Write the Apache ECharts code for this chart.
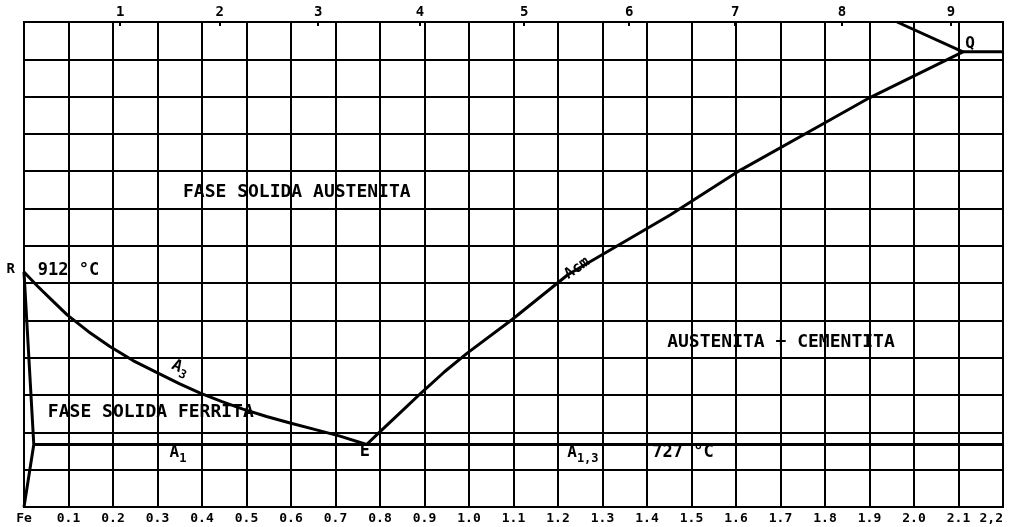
<!DOCTYPE html>
<html>
<head>
<meta charset="utf-8">
<script src="https://cdn.jsdelivr.net/npm/echarts@6/dist/echarts.min.js"></script>
<style>
  html, body { margin: 0; padding: 0; background: #fff; }
  #chart { width: 1011px; height: 527px; }
</style>
</head>
<body>
<div id="chart"></div>
<script>
// ---- data (carbon %, temperature °C) ----
const xTickLabels = ['Fe','0.1','0.2','0.3','0.4','0.5','0.6','0.7','0.8','0.9','1.0',
                     '1.1','1.2','1.3','1.4','1.5','1.6','1.7','1.8','1.9','2.0','2.1','2,2'];
const topTickLabels = ['1','2','3','4','5','6','7','8','9'];
const topTickValues = [0.216, 0.44, 0.661, 0.89, 1.124, 1.36, 1.598, 1.838, 2.083];

const a3Line = [[0,912],[0.03,897],[0.058,884],[0.097,866],[0.145,848],[0.193,832],[0.245,817],
                [0.299,804],[0.35,792],[0.396,782],[0.445,773],[0.492,765],[0.545,757],
                [0.598,750],[0.655,743],[0.71,736],[0.77,727]];
const acmLine = [[0.77,727],[0.796,739],[0.845,761],[0.894,783],[0.945,805],[0.996,825],
                 [1.097,861],[1.222,909],[1.452,973],[1.602,1019],[1.8,1072],[1.901,1099],[2.11,1148]];
const upperLine = [[2.11,1148],[1.962,1180]];
const eutecticLine = [[2.11,1148],[2.2,1148]];
const ferriteLine = [[0,912],[0.022,727],[0,660]];
const a1Line = [[0.022,727],[2.2,727]];

const labelTexts = ['FASE SOLIDA AUSTENITA','FASE SOLIDA FERRITA','AUSTENITA + CEMENTITA',
                    '912 °C','727 °C','{a|A}{s|1,3}','{a|A}{s|1}','E','{a|A}{s|3}','Acm','Q','R'];
const labelPoints = [[0.613,997],[0.285,761],[1.701,837],
                     [0.1,914],[1.481,718],[1.256,718],[0.346,718],[0.766,719],[0.351,809],[1.243,916],[2.126,1157],[-0.03,915]];
const labelSizes = [18,18,18,17,17,16,16,17,16,15,16,14];
const labelRotations = [0,0,0,0,0,0,0,0,-25,35,0,0];

// ---- chart ----
const FONT = 'DejaVu Sans Mono';
const chart = echarts.init(document.getElementById('chart'), null, {renderer: 'canvas'});

function lineSeries(data) {
  return {
    type: 'line', data: data, xAxisIndex: 0, yAxisIndex: 0,
    symbol: 'none', silent: true, clip: false,
    lineStyle: {color: '#000', width: 3}
  };
}

const labelData = labelTexts.map((t, i) => ({
  value: labelPoints[i],
  label: {
    show: true, position: 'inside', formatter: t, rotate: labelRotations[i],
    fontFamily: FONT, fontWeight: 'bold', fontSize: labelSizes[i], color: '#000', opacity: 1,
    textBorderWidth: 0, textBorderColor: 'transparent', textShadowBlur: 0,
    rich: {
      a: {fontFamily: FONT, fontWeight: 'bold', fontSize: labelSizes[i], color: '#000', textBorderWidth: 0},
      s: {fontFamily: FONT, fontWeight: 'bold', fontSize: Math.round(labelSizes[i] * 0.75), color: '#000',
          textBorderWidth: 0, padding: [11, 0, 0, 0]}
    }
  }
}));

chart.setOption({
  animation: false,
  backgroundColor: '#fff',
  grid: {left: 24, right: 8, top: 22, bottom: 20, show: true, borderColor: '#000', borderWidth: 2},
  xAxis: [
    {
      type: 'value', position: 'bottom', min: 0, max: 2.2, interval: 0.1,
      axisLine: {show: false}, axisTick: {show: false},
      splitLine: {show: true, lineStyle: {color: '#000', width: 2}},
      axisLabel: {
        show: true, margin: 5, color: '#000', fontFamily: FONT, fontWeight: 'bold', fontSize: 13,
        showMinLabel: true, showMaxLabel: true, alignMaxLabel: 'right',
        formatter: v => xTickLabels[Math.round(v * 10)]
      }
    },
    {
      type: 'value', position: 'top', min: 0, max: 2.2,
      axisLine: {show: false}, splitLine: {show: false},
      axisTick: {show: true, inside: true, length: 4, customValues: topTickValues, lineStyle: {color: '#000', width: 2}},
      axisLabel: {
        show: true, margin: 3, color: '#000', fontFamily: FONT, fontWeight: 'bold', fontSize: 14,
        customValues: topTickValues,
        formatter: v => {
          let best = 0;
          topTickValues.forEach((p, i) => { if (Math.abs(p - v) < Math.abs(topTickValues[best] - v)) best = i; });
          return topTickLabels[best];
        }
      }
    }
  ],
  yAxis: [
    {type: 'value', min: 660, max: 1180, show: false},
    {
      type: 'value', min: 0, max: 13, interval: 1,
      axisLine: {show: false}, axisTick: {show: false}, axisLabel: {show: false},
      splitLine: {show: true, lineStyle: {color: '#000', width: 2}}
    }
  ],
  series: [
    lineSeries(a3Line),
    lineSeries(acmLine),
    lineSeries(upperLine),
    lineSeries(eutecticLine),
    lineSeries(ferriteLine),
    lineSeries(a1Line),
    {
      type: 'scatter', xAxisIndex: 0, yAxisIndex: 0, symbolSize: 0, silent: true, clip: false,
      itemStyle: {color: '#000', opacity: 1},
      data: labelData
    }
  ]
});
</script>
</body>
</html>
